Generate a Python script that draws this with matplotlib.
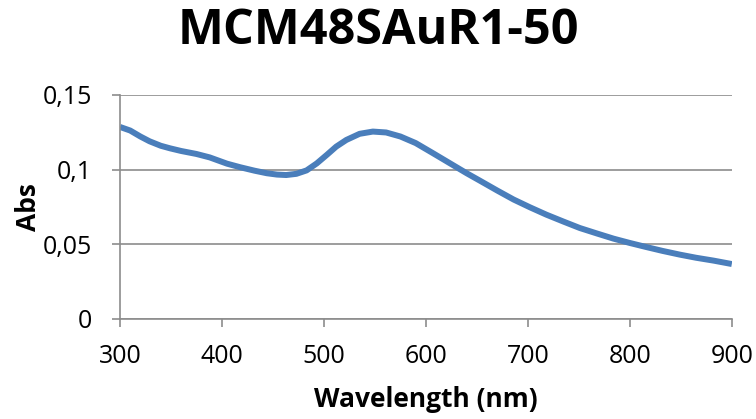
import matplotlib
matplotlib.use('Agg')
import matplotlib.pyplot as plt
from matplotlib.ticker import FuncFormatter

plt.rcParams['font.family'] = ['Open Sans', 'DejaVu Sans']

# wavelength (nm) and absorbance
wavelength = [300, 310, 320, 329, 340, 349, 360, 375, 388, 405, 418, 432,
              444, 454, 463, 473, 483, 493, 503, 512, 522, 535, 548, 561,
              575, 590, 607, 623, 640, 653, 670, 686, 702, 718, 735, 751,
              768, 784, 800, 816, 832, 849, 865, 882, 900]
absorbance = [0.1286, 0.1262, 0.1222, 0.1190, 0.1160, 0.1143, 0.1125, 0.1105,
              0.1082, 0.1040, 0.1016, 0.0993, 0.0976, 0.0967, 0.0964, 0.0972,
              0.0995, 0.1042, 0.1100, 0.1154, 0.1199, 0.1240, 0.1255, 0.1249,
              0.1222, 0.1178, 0.1110, 0.1045, 0.0976, 0.0926, 0.0860, 0.0800,
              0.0748, 0.0699, 0.0652, 0.0609, 0.0572, 0.0538, 0.0509, 0.0482,
              0.0456, 0.0431, 0.0410, 0.0391, 0.0368]

x_ticks = [300, 400, 500, 600, 700, 800, 900]
y_ticks = [0, 0.05, 0.1, 0.15]

title = 'MCM48SAuR1-50'
x_label = 'Wavelength (nm)'
y_label = 'Abs'

grid_color = '#8c8c8c'

fig = plt.figure(figsize=(7.56, 4.19), dpi=100)
ax = fig.add_axes([0.1587, 0.2387, 0.8093, 0.5346])

ax.plot(wavelength, absorbance, color='#4a7ebb', linewidth=4.3,
        solid_capstyle='butt', solid_joinstyle='round')

ax.set_xlim(300, 900)
ax.set_ylim(0, 0.15)
ax.set_xticks(x_ticks)
ax.set_yticks(y_ticks)
ax.yaxis.set_major_formatter(FuncFormatter(lambda v, _: f'{v:g}'.replace('.', ',')))

ax.grid(True, axis='y', color=grid_color, linewidth=1.2)
ax.set_axisbelow(True)
for side in ['top', 'right']:
    ax.spines[side].set_visible(False)
for side in ['left', 'bottom']:
    ax.spines[side].set_color(grid_color)
    ax.spines[side].set_linewidth(1.2)

ax.tick_params(axis='both', colors=grid_color, length=6, width=1.2, labelsize=18,
               labelcolor='black')
ax.tick_params(axis='x', pad=12)
ax.tick_params(axis='y', pad=14)

ax.set_xlabel(x_label, fontsize=19, fontweight='bold', labelpad=12)
ax.set_ylabel(y_label, fontsize=19, fontweight='bold')
ax.yaxis.set_label_coords(-0.128, 0.5)

fig.text(0.5, 0.926, title, ha='center', va='center', fontsize=35, fontweight='bold')

fig.savefig('out.png', dpi=100)
